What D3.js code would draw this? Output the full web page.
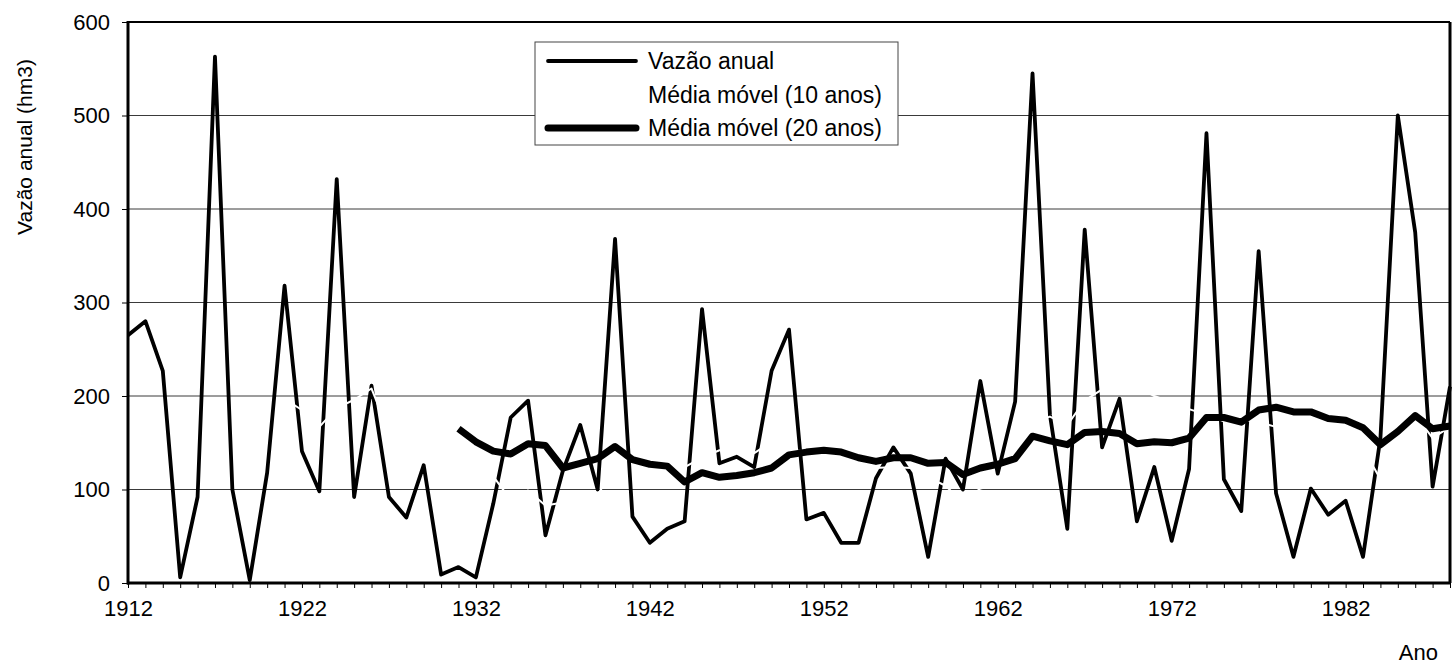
<!DOCTYPE html>
<html><head><meta charset="utf-8">
<script src="https://cdn.jsdelivr.net/npm/d3@7"></script>
<style>
body{margin:0;background:#fff}
svg{display:block}
text{font-family:"Liberation Sans",Arial,sans-serif;fill:#000}
</style>
</head><body>
<svg id="chart" width="1452" height="666"></svg>
<script>
// ---- DATA ----
const years = [1912,1913,1914,1915,1916,1917,1918,1919,1920,1921,1922,1923,1924,1925,1926,1927,1928,1929,1930,1931,
  1932,1933,1934,1935,1936,1937,1938,1939,1940,1941,1942,1943,1944,1945,1946,1947,1948,1949,1950,1951,
  1952,1953,1954,1955,1956,1957,1958,1959,1960,1961,1962,1963,1964,1965,1966,1967,1968,1969,1970,1971,
  1972,1973,1974,1975,1976,1977,1978,1979,1980,1981,1982,1983,1984,1985,1986,1987,1988];
const vazaoAnual = [265,280,227,6,92,563,100,3,118,318,141,98,432,92,211,92,70,126,9,17,
  6,85,177,195,51,120,169,100,368,71,43,58,66,293,128,135,124,227,271,68,
  75,43,43,112,145,117,28,133,100,216,117,194,545,180,58,378,145,197,66,124,
  45,122,481,111,77,355,96,28,101,73,88,28,155,500,375,103,210];
// 10-year moving average (drawn white in the original), starts 1921
const mm10Start = 1921;
const mediaMovel10 = [197,185,167,187,196,208,161,158,170,159,129,115,114,89,99,83,86,96,93,129,
  134,138,135,124,134,142,143,139,151,142,141,145,143,141,123,124,123,113,104,86,
  101,105,121,171,178,169,195,207,213,210,200,193,186,180,173,175,172,167,151,154,
  149,153,144,111,150,180,155,167];
// 20-year moving average, starts 1931
const mm20Start = 1931;
const mediaMovel20 = [165,151,141,138,149,147,123,128,133,146,132,127,125,108,118,113,115,118,123,137,
  140,142,140,134,130,134,134,128,129,116,123,127,133,157,152,148,161,162,160,149,
  151,150,155,177,177,172,185,188,183,183,176,174,166,148,162,179,165,168];
const xTickLabels = [1912,1922,1932,1942,1952,1962,1972,1982];
const yTicks = [0,100,200,300,400,500,600];
const gridValues = [100,200,300,400,500];
const legendLabels = ["Vazão anual","Média móvel (10 anos)","Média móvel (20 anos)"];
const yTitle = "Vazão anual (hm3)";
const xTitle = "Ano";

// ---- LAYOUT ----
const L = 128, R = 1450, T = 22, B = 583;
const svg = d3.select("#chart");
const x = d3.scaleLinear().domain([1912, 1988]).range([L, R]);
const y = d3.scaleLinear().domain([0, 600]).range([B, T]);

svg.append("defs").append("clipPath").attr("id","plotclip")
  .append("rect").attr("x", L).attr("y", T - 10).attr("width", R - L + 4).attr("height", B - T + 12);

// gridlines
svg.append("g").selectAll("line").data(gridValues).join("line")
  .attr("x1", L).attr("x2", R).attr("y1", d => y(d)).attr("y2", d => y(d))
  .attr("stroke", "#3a3a3a").attr("stroke-width", 1);

const plot = svg.append("g").attr("clip-path","url(#plotclip)");

const annual = years.map((yr, i) => [yr, vazaoAnual[i]]);
const ma10 = mediaMovel10.map((v, i) => [mm10Start + i, v]);
const ma20 = mediaMovel20.map((v, i) => [mm20Start + i, v]);
const line = d3.line().x(d => x(d[0])).y(d => y(d[1]));

plot.append("path").datum(annual).attr("d", line)
  .attr("fill","none").attr("stroke","#000").attr("stroke-width",3.8).attr("stroke-linejoin","round");
plot.append("path").datum(ma10).attr("d", line)
  .attr("fill","none").attr("stroke","#fff").attr("stroke-width",2).attr("stroke-linejoin","round");
plot.append("path").datum(ma20).attr("d", line)
  .attr("fill","none").attr("stroke","#000").attr("stroke-width",7).attr("stroke-linejoin","round");

// x axis (ticks every year, labels every 10)
const labelSet = new Set(xTickLabels);
const xAxis = svg.append("g").attr("transform", `translate(0,${B})`)
  .call(d3.axisBottom(x).tickValues(years).tickSize(5).tickPadding(12)
    .tickFormat(d => labelSet.has(d) ? String(d) : ""));
xAxis.select(".domain").remove();
xAxis.selectAll(".tick line").attr("stroke","#000").attr("stroke-width",1);
xAxis.selectAll("text").attr("font-size","22px").attr("font-family","Liberation Sans, Arial, sans-serif");

// y axis
const yAxis = svg.append("g").attr("transform", `translate(${L},0)`)
  .call(d3.axisLeft(y).tickValues(yTicks).tickSize(6).tickPadding(12));
yAxis.select(".domain").remove();
yAxis.selectAll(".tick line").attr("stroke","#000").attr("stroke-width",1);
yAxis.selectAll("text").attr("font-size","22px").attr("font-family","Liberation Sans, Arial, sans-serif");

// frame
svg.append("line").attr("x1",L).attr("x2",R).attr("y1",T).attr("y2",T).attr("stroke","#000").attr("stroke-width",2);
svg.append("line").attr("x1",R).attr("x2",R).attr("y1",T).attr("y2",B).attr("stroke","#000").attr("stroke-width",3);
svg.append("line").attr("x1",L).attr("x2",L).attr("y1",T-1).attr("y2",B+1.5).attr("stroke","#000").attr("stroke-width",3);
svg.append("line").attr("x1",L-1).attr("x2",R).attr("y1",B).attr("y2",B).attr("stroke","#000").attr("stroke-width",3);

// axis titles
svg.append("text").attr("transform", `translate(32,147) rotate(-90)`)
  .attr("text-anchor","middle").attr("font-size","21px").text(yTitle);
svg.append("text").attr("x", 1438).attr("y", 660).attr("text-anchor","end")
  .attr("font-size","22px").text(xTitle);

// legend
const lg = svg.append("g");
lg.append("rect").attr("x",535).attr("y",42).attr("width",363).attr("height",103)
  .attr("fill","#fff").attr("stroke","#444").attr("stroke-width",1);
const rowsY = [61, 95, 128];
const sampleW = [3.8, 2, 7];
const sampleC = ["#000", "#fff", "#000"];
lg.selectAll("line.s").data(legendLabels).join("line").attr("class","s")
  .attr("x1",548).attr("x2",636).attr("y1",(d,i)=>rowsY[i]).attr("y2",(d,i)=>rowsY[i])
  .attr("stroke",(d,i)=>sampleC[i]).attr("stroke-width",(d,i)=>sampleW[i]).attr("stroke-linecap","round");
lg.selectAll("text").data(legendLabels).join("text")
  .attr("x",648).attr("y",(d,i)=>rowsY[i]).attr("dy","0.35em")
  .attr("font-size","23px").text(d => d);
</script>
</body></html>
